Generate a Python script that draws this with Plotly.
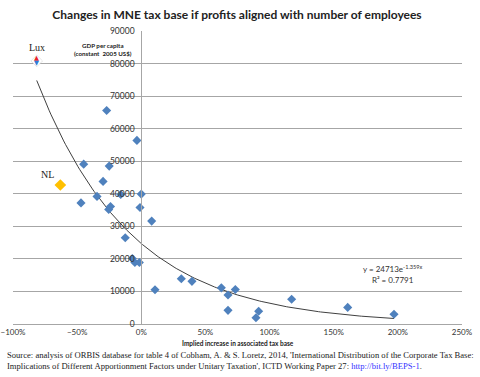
import numpy as np
import plotly.graph_objects as go

# ---- data ----
x_countries = [-0.27, -0.034, -0.449, -0.25, -0.298, -0.47, -0.345, -0.16, 0.0, -0.24,
               -0.254, -0.01, 0.081, -0.125, -0.07, -0.05, -0.015, 0.107, 0.312, 0.395,
               0.624, 0.676, 0.733, 0.676, 0.915, 0.894, 1.172, 1.609, 1.97]
y_countries = [65600, 56400, 49100, 48500, 43800, 37200, 39200, 39800, 39900, 36100,
               35200, 35800, 31600, 26500, 20100, 18900, 18900, 10500, 13900, 13100,
               11100, 8900, 10600, 4200, 3900, 1900, 7600, 5100, 3000]
lux_x, lux_y = [-0.815], [80800]
nl_x, nl_y = [-0.631], [42700]

trend_a, trend_b = 24713, -1.359
trend_range = [-0.815, 1.97]
r_squared = 0.7791

x_ticks = [-1.0, -0.5, 0.0, 0.5, 1.0, 1.5, 2.0, 2.5]
y_ticks = list(range(0, 90001, 10000))

tx = np.linspace(trend_range[0], trend_range[1], 200)
ty = trend_a * np.exp(trend_b * tx)

fig = go.Figure()
fig.add_trace(go.Scatter(x=tx, y=ty, mode="lines",
                         line=dict(color="#404040", width=1), hoverinfo="skip"))
fig.add_trace(go.Scatter(x=x_countries, y=y_countries, mode="markers",
                         marker=dict(symbol="diamond", size=7, color="#4F81BD")))
fig.add_trace(go.Scatter(x=nl_x, y=nl_y, mode="markers",
                         marker=dict(symbol="diamond", size=9, color="#FFC000")))
fig.add_trace(go.Scatter(x=lux_x, y=lux_y, mode="markers",
                         marker=dict(symbol="diamond", size=9, color="white",
                                     line=dict(width=0.5, color="#CCCCCC"))))

serif = "Liberation Serif"
sans = "Lato"

L, R, T, B, W, H = 13, 18, 31, 53, 480, 377
PW, PH = W - L - R, H - T - B


def px(xp):
    return (xp - L) / PW


def py(yp):
    return (H - B - yp) / PH


annotations = [
    dict(text="▲", x=lux_x[0], y=lux_y[0], xref="x", yref="y", showarrow=False,
         yshift=2.5, font=dict(family="DejaVu Sans", size=6.5, color="#E8202A")),
    dict(text="▼", x=lux_x[0], y=lux_y[0], xref="x", yref="y", showarrow=False,
         yshift=-2.5, font=dict(family="DejaVu Sans", size=6.5, color="#2E7BD6")),
    dict(text="Lux", x=lux_x[0], y=lux_y[0], xref="x", yref="y", showarrow=False,
         yshift=13, font=dict(family=serif, size=10, color="#222")),
    dict(text="NL", x=nl_x[0], y=nl_y[0], xref="x", yref="y", showarrow=False,
         xshift=-13, yshift=10, font=dict(family=serif, size=10, color="#222")),
    dict(text="<b>GDP per capita<br>(constant  2005 US$)</b>", x=0, y=py(50), xref="x", yref="paper",
         xanchor="right", yanchor="middle", xshift=-7, showarrow=False, align="center",
         font=dict(family=sans, size=6.2, color="#222")),
    dict(text="<b>Implied increase in associated tax base</b>", x=px(238), y=py(343), xref="paper",
         yref="paper", yanchor="middle", showarrow=False, font=dict(family=sans, size=6.5, color="#222")),
    dict(text=f"y = {trend_a}e<sup>{trend_b}x</sup><br>R² = {r_squared}", x=1.96, y=15400,
         xref="x", yref="y", showarrow=False, align="center",
         font=dict(family=sans, size=8, color="#333")),
    dict(text="Source: analysis of ORBIS database for table 4 of Cobham, A. &amp; S. Loretz, 2014, 'International Distribution of the Corporate Tax Base:<br>"
              "Implications of Different Apportionment Factors under Unitary Taxation', ICTD Working Paper 27: "
              "<span style='color:#3333FF'>http://bit.ly/BEPS-1</span>.",
         x=px(5), y=py(348), xref="paper", yref="paper", showarrow=False, xanchor="left",
         yanchor="top", align="left",
         font=dict(family=serif, size=8.6, color="#222")),
]

fig.update_layout(
    width=W, height=H,
    margin=dict(l=L, r=R, t=T, b=B, autoexpand=False),
    paper_bgcolor="white", plot_bgcolor="white",
    showlegend=False,
    title=dict(text="<b>Changes in MNE tax base if profits aligned with number of employees</b>",
               x=237 / W, xanchor="center", xref="container", y=1 - 15 / H, yanchor="middle",
               font=dict(family=sans, size=12, color="#222")),
    xaxis=dict(range=[-1, 2.5], tickvals=x_ticks, tickformat=".0%", showgrid=False,
               zeroline=False, showline=True, linecolor="#A6A6A6", linewidth=1,
               ticks="", automargin=False, tickfont=dict(family=sans, size=8, color="#333")),
    yaxis=dict(range=[0, 90000], tickvals=y_ticks, showgrid=True, gridcolor="#A6A6A6",
               gridwidth=1, zeroline=False, showline=True, linecolor="#A6A6A6",
               anchor="free", position=1 / 3.5, ticks="", ticklabelstandoff=5,
               automargin=False, tickformat="d",
               tickfont=dict(family=sans, size=8.5, color="#333")),
    annotations=annotations,
)

fig.write_html("out.html", config={"displayModeBar": False},
               post_script="document.body.style.margin='0';document.body.style.padding='0';")
